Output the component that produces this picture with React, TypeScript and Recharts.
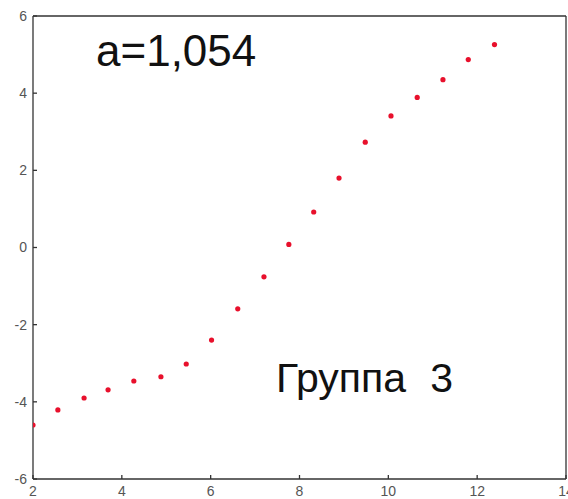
import React from "react";
import { ScatterChart, Scatter, XAxis, YAxis } from "recharts";

const xValues = [2.0, 2.56, 3.15, 3.69, 4.27, 4.88, 5.45, 6.02, 6.61, 7.2, 7.76, 8.32, 8.89, 9.48, 10.06, 10.65, 11.23, 11.8, 12.39];
const yValues = [-4.6, -4.21, -3.9, -3.69, -3.46, -3.35, -3.02, -2.4, -1.59, -0.76, 0.08, 0.92, 1.8, 2.73, 3.41, 3.89, 4.35, 4.87, 5.26];
const xTicks = [2, 4, 6, 8, 10, 12, 14];
const yTicks = [-6, -4, -2, 0, 2, 4, 6];
const annotationTop = "a=1,054";
const annotationBottom = "Группа 3";

const data = xValues.map((x, i) => ({ x, y: yValues[i] }));

const axisColor = "#333";
const tickStyle = { fill: "#555", fontSize: 14, fontFamily: "Liberation Sans, Arial, sans-serif" };

const Dot = (props: any) => <circle cx={props.cx} cy={props.cy} r={2.6} fill="#e8102c" />;

export default function App() {
  return (
    <div style={{ position: "absolute", left: 0, top: 0, width: 568, height: 499, background: "#fff" }}>
      <ScatterChart width={568} height={499} margin={{ top: 15, right: 1, left: 0, bottom: 0 }}>
        <XAxis
          xAxisId="b"
          dataKey="x"
          type="number"
          domain={[2, 14]}
          ticks={xTicks}
          allowDataOverflow
          height={20}
          tickSize={-4}
          tickMargin={11}
          stroke={axisColor}
          strokeWidth={1.3}
          tick={tickStyle}
          interval={0}
        />
        <XAxis
          xAxisId="t"
          orientation="top"
          type="number"
          domain={[2, 14]}
          ticks={xTicks}
          allowDataOverflow
          height={1}
          tickSize={-4}
          tick={false}
          stroke={axisColor}
          strokeWidth={1.3}
        />
        <YAxis
          yAxisId="l"
          dataKey="y"
          type="number"
          domain={[-6, 6]}
          ticks={yTicks}
          allowDataOverflow
          width={33}
          tickSize={-4}
          tickMargin={10}
          stroke={axisColor}
          strokeWidth={1.3}
          tick={tickStyle}
          interval={0}
        />
        <YAxis
          yAxisId="r"
          orientation="right"
          type="number"
          domain={[-6, 6]}
          ticks={yTicks}
          allowDataOverflow
          width={1}
          tickSize={-4}
          tick={false}
          stroke={axisColor}
          strokeWidth={1.3}
        />
        <Scatter data={data} xAxisId="b" yAxisId="l" shape={Dot} isAnimationActive={false} />
      </ScatterChart>
      <div
        style={{
          position: "absolute",
          left: 96,
          top: 22,
          fontSize: 44,
          lineHeight: "58px",
          fontFamily: "Liberation Sans, Arial, sans-serif",
          color: "#111",
          whiteSpace: "pre",
        }}
      >
        {annotationTop}
      </div>
      <div
        style={{
          position: "absolute",
          left: 276,
          top: 351,
          fontSize: 41,
          lineHeight: "54px",
          fontFamily: "Liberation Sans, Arial, sans-serif",
          color: "#111",
          whiteSpace: "pre",
          wordSpacing: 13,
        }}
      >
        {annotationBottom}
      </div>
    </div>
  );
}
